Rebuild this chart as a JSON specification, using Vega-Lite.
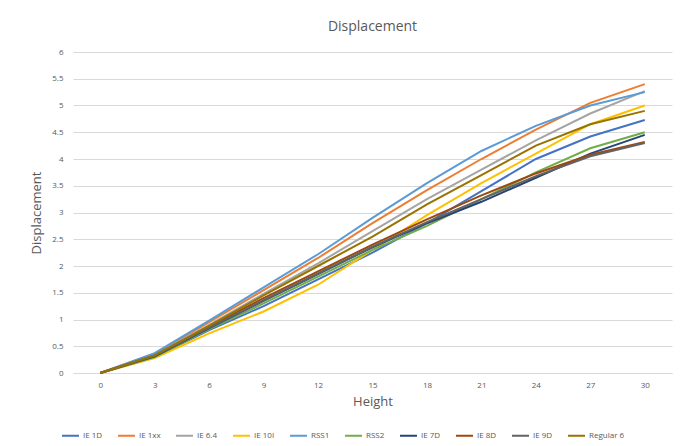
{
  "$schema": "https://vega.github.io/schema/vega-lite/v6.json",
  "width": 599,
  "height": 321,
  "autosize": {"type": "none"},
  "padding": {"left": 73, "top": 52, "right": 14, "bottom": 73},
  "background": "white",
  "config": {
    "view": {"stroke": null},
    "font": "Open Sans",
    "axis": {"labelColor": "#595959", "titleColor": "#595959", "labelFontSize": 8, "titleFontSize": 13, "titleFontWeight": "normal"},
    "legend": {"labelColor": "#595959", "labelFontSize": 8}
  },
  "title": {"text": "Displacement", "fontSize": 14, "fontWeight": "normal", "color": "#595959", "offset": 14, "font": "Open Sans"},
  "data": {
    "values": [
      {"series": "IE 1D", "h": 0, "d": 0}, {"series": "IE 1D", "h": 3, "d": 0.30}, {"series": "IE 1D", "h": 6, "d": 0.80}, {"series": "IE 1D", "h": 9, "d": 1.25}, {"series": "IE 1D", "h": 12, "d": 1.75}, {"series": "IE 1D", "h": 15, "d": 2.25}, {"series": "IE 1D", "h": 18, "d": 2.80}, {"series": "IE 1D", "h": 21, "d": 3.40}, {"series": "IE 1D", "h": 24, "d": 4.00}, {"series": "IE 1D", "h": 27, "d": 4.42}, {"series": "IE 1D", "h": 30, "d": 4.73},
      {"series": "IE 1xx", "h": 0, "d": 0}, {"series": "IE 1xx", "h": 3, "d": 0.36}, {"series": "IE 1xx", "h": 6, "d": 0.95}, {"series": "IE 1xx", "h": 9, "d": 1.55}, {"series": "IE 1xx", "h": 12, "d": 2.15}, {"series": "IE 1xx", "h": 15, "d": 2.80}, {"series": "IE 1xx", "h": 18, "d": 3.42}, {"series": "IE 1xx", "h": 21, "d": 4.00}, {"series": "IE 1xx", "h": 24, "d": 4.55}, {"series": "IE 1xx", "h": 27, "d": 5.05}, {"series": "IE 1xx", "h": 30, "d": 5.40},
      {"series": "IE 6.4", "h": 0, "d": 0}, {"series": "IE 6.4", "h": 3, "d": 0.34}, {"series": "IE 6.4", "h": 6, "d": 0.90}, {"series": "IE 6.4", "h": 9, "d": 1.48}, {"series": "IE 6.4", "h": 12, "d": 2.05}, {"series": "IE 6.4", "h": 15, "d": 2.65}, {"series": "IE 6.4", "h": 18, "d": 3.25}, {"series": "IE 6.4", "h": 21, "d": 3.80}, {"series": "IE 6.4", "h": 24, "d": 4.35}, {"series": "IE 6.4", "h": 27, "d": 4.85}, {"series": "IE 6.4", "h": 30, "d": 5.27},
      {"series": "IE 10I", "h": 0, "d": 0}, {"series": "IE 10I", "h": 3, "d": 0.28}, {"series": "IE 10I", "h": 6, "d": 0.74}, {"series": "IE 10I", "h": 9, "d": 1.15}, {"series": "IE 10I", "h": 12, "d": 1.65}, {"series": "IE 10I", "h": 15, "d": 2.30}, {"series": "IE 10I", "h": 18, "d": 2.95}, {"series": "IE 10I", "h": 21, "d": 3.55}, {"series": "IE 10I", "h": 24, "d": 4.10}, {"series": "IE 10I", "h": 27, "d": 4.65}, {"series": "IE 10I", "h": 30, "d": 5.00},
      {"series": "RSS1", "h": 0, "d": 0}, {"series": "RSS1", "h": 3, "d": 0.37}, {"series": "RSS1", "h": 6, "d": 0.98}, {"series": "RSS1", "h": 9, "d": 1.60}, {"series": "RSS1", "h": 12, "d": 2.22}, {"series": "RSS1", "h": 15, "d": 2.90}, {"series": "RSS1", "h": 18, "d": 3.55}, {"series": "RSS1", "h": 21, "d": 4.15}, {"series": "RSS1", "h": 24, "d": 4.62}, {"series": "RSS1", "h": 27, "d": 5.00}, {"series": "RSS1", "h": 30, "d": 5.25},
      {"series": "RSS2", "h": 0, "d": 0}, {"series": "RSS2", "h": 3, "d": 0.30}, {"series": "RSS2", "h": 6, "d": 0.82}, {"series": "RSS2", "h": 9, "d": 1.30}, {"series": "RSS2", "h": 12, "d": 1.80}, {"series": "RSS2", "h": 15, "d": 2.30}, {"series": "RSS2", "h": 18, "d": 2.75}, {"series": "RSS2", "h": 21, "d": 3.25}, {"series": "RSS2", "h": 24, "d": 3.75}, {"series": "RSS2", "h": 27, "d": 4.20}, {"series": "RSS2", "h": 30, "d": 4.50},
      {"series": "IE 7D", "h": 0, "d": 0}, {"series": "IE 7D", "h": 3, "d": 0.31}, {"series": "IE 7D", "h": 6, "d": 0.84}, {"series": "IE 7D", "h": 9, "d": 1.35}, {"series": "IE 7D", "h": 12, "d": 1.85}, {"series": "IE 7D", "h": 15, "d": 2.35}, {"series": "IE 7D", "h": 18, "d": 2.80}, {"series": "IE 7D", "h": 21, "d": 3.20}, {"series": "IE 7D", "h": 24, "d": 3.65}, {"series": "IE 7D", "h": 27, "d": 4.10}, {"series": "IE 7D", "h": 30, "d": 4.45},
      {"series": "IE 8D", "h": 0, "d": 0}, {"series": "IE 8D", "h": 3, "d": 0.33}, {"series": "IE 8D", "h": 6, "d": 0.87}, {"series": "IE 8D", "h": 9, "d": 1.40}, {"series": "IE 8D", "h": 12, "d": 1.90}, {"series": "IE 8D", "h": 15, "d": 2.40}, {"series": "IE 8D", "h": 18, "d": 2.87}, {"series": "IE 8D", "h": 21, "d": 3.32}, {"series": "IE 8D", "h": 24, "d": 3.73}, {"series": "IE 8D", "h": 27, "d": 4.08}, {"series": "IE 8D", "h": 30, "d": 4.32},
      {"series": "IE 9D", "h": 0, "d": 0}, {"series": "IE 9D", "h": 3, "d": 0.32}, {"series": "IE 9D", "h": 6, "d": 0.85}, {"series": "IE 9D", "h": 9, "d": 1.36}, {"series": "IE 9D", "h": 12, "d": 1.86}, {"series": "IE 9D", "h": 15, "d": 2.36}, {"series": "IE 9D", "h": 18, "d": 2.82}, {"series": "IE 9D", "h": 21, "d": 3.25}, {"series": "IE 9D", "h": 24, "d": 3.68}, {"series": "IE 9D", "h": 27, "d": 4.05}, {"series": "IE 9D", "h": 30, "d": 4.30},
      {"series": "Regular 6", "h": 0, "d": 0}, {"series": "Regular 6", "h": 3, "d": 0.33}, {"series": "Regular 6", "h": 6, "d": 0.88}, {"series": "Regular 6", "h": 9, "d": 1.45}, {"series": "Regular 6", "h": 12, "d": 2.00}, {"series": "Regular 6", "h": 15, "d": 2.55}, {"series": "Regular 6", "h": 18, "d": 3.15}, {"series": "Regular 6", "h": 21, "d": 3.70}, {"series": "Regular 6", "h": 24, "d": 4.25}, {"series": "Regular 6", "h": 27, "d": 4.65}, {"series": "Regular 6", "h": 30, "d": 4.90}
    ]
  },
  "mark": {"type": "line", "strokeWidth": 2},
  "encoding": {
    "x": {
      "field": "h", "type": "ordinal", "title": "Height",
      "scale": {"type": "point", "padding": 0.5},
      "axis": {"labelAngle": 0, "ticks": false, "domainColor": "#D9D9D9", "labelPadding": 8, "titlePadding": 6}
    },
    "y": {
      "field": "d", "type": "quantitative", "title": "Displacement",
      "scale": {"domain": [0, 6], "nice": false},
      "axis": {"values": [0, 0.5, 1, 1.5, 2, 2.5, 3, 3.5, 4, 4.5, 5, 5.5, 6], "format": ".1~f", "domain": false, "ticks": false, "gridColor": "#D9D9D9", "labelPadding": 10, "titlePadding": 8}
    },
    "color": {
      "field": "series", "type": "nominal", "title": null,
      "sort": ["IE 1D", "IE 1xx", "IE 6.4", "IE 10I", "RSS1", "RSS2", "IE 7D", "IE 8D", "IE 9D", "Regular 6"],
      "scale": {
        "domain": ["IE 1D", "IE 1xx", "IE 6.4", "IE 10I", "RSS1", "RSS2", "IE 7D", "IE 8D", "IE 9D", "Regular 6"],
        "range": ["#4472C4", "#ED7D31", "#A5A5A5", "#FFC000", "#5B9BD5", "#70AD47", "#264478", "#9E480E", "#636363", "#997300"]
      },
      "legend": {"orient": "none", "legendX": -12, "legendY": 374, "direction": "horizontal", "symbolType": "stroke", "symbolStrokeWidth": 2, "symbolSize": 289, "symbolOffset": 0, "labelOffset": 3, "columnPadding": 11, "labelLimit": 60}
    }
  }
}
